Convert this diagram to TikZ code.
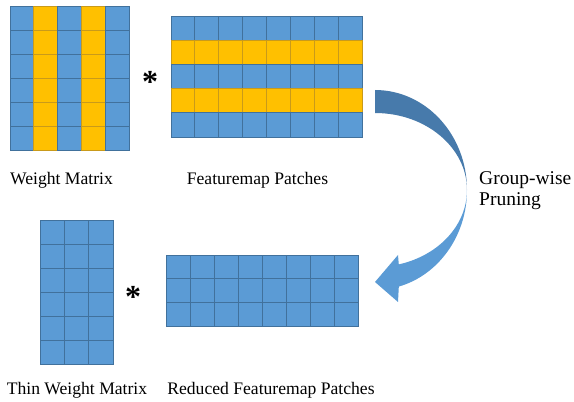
\documentclass[tikz,border=0pt]{standalone}
\usepackage{fontspec}
\setmainfont{Liberation Serif}
\definecolor{cblue}{HTML}{5B9BD5}
\definecolor{cyel}{HTML}{FFC000}
\definecolor{bblue}{HTML}{41719C}
\definecolor{byel}{HTML}{C99A1A}
\definecolor{darkarrow}{HTML}{477AAB}
\begin{document}
\begin{tikzpicture}[x=1pt,y=1pt,
  bluecell/.style={fill=cblue,draw=bblue,line width=0.8pt},
  yelcell/.style={fill=cyel,draw=byel,line width=0.8pt},
  lbl/.style={font=\fontsize{17.6}{20}\selectfont,anchor=base,inner sep=0pt},
  sidelbl/.style={font=\fontsize{19.5}{22}\selectfont,anchor=base west,inner sep=0pt},
  star/.style={font=\bfseries\fontsize{32}{32}\selectfont,inner sep=0pt}]
\useasboundingbox (0,0) rectangle (574,402);
% Weight matrix
\foreach \c in {0,...,4}{\foreach \r in {0,...,5}{
  \pgfmathtruncatemacro\isy{(\c==1)||(\c==3)}
  \ifnum\isy=1
    \draw[yelcell] (10+23.8*\c,396-24*\r) rectangle ++(23.8,-24);
  \else
    \draw[bluecell] (10+23.8*\c,396-24*\r) rectangle ++(23.8,-24);
  \fi
}}
% Featuremap patches
\foreach \c in {0,...,7}{\foreach \r in {0,...,4}{
  \pgfmathtruncatemacro\isy{(\r==1)||(\r==3)}
  \ifnum\isy=1
    \draw[yelcell] (171+23.875*\c,386-24.2*\r) rectangle ++(23.875,-24.2);
  \else
    \draw[bluecell] (171+23.875*\c,386-24.2*\r) rectangle ++(23.875,-24.2);
  \fi
}}
% Thin weight matrix
\foreach \c in {0,...,2}{\foreach \r in {0,...,5}{
  \draw[bluecell] (40+24.33*\c,182-24*\r) rectangle ++(24.33,-24);
}}
% Reduced featuremap patches
\foreach \c in {0,...,7}{\foreach \r in {0,...,2}{
  \draw[bluecell] (166+24*\c,147-23.67*\r) rectangle ++(24,-23.67);
}}
% stars
\node[star] (s1) at (150,320) {*};
\node[star] (s2) at (133,105) {*};
% labels
\node[lbl] (l1) at (61.5,217) {Weight Matrix};
\node[lbl] (l2) at (257.5,217) {Featuremap Patches};
\node[lbl] (l3) at (77,7) {Thin Weight Matrix};
\node[lbl] (l4) at (271,7) {Reduced Featuremap Patches};
\node[sidelbl] (g1) at (479,217) {Group-wise};
\node[sidelbl] (g2) at (479,196) {Pruning};
% curved arrow
\fill[darkarrow] (375,312) arc[start angle=90,end angle=0,x radius=92,y radius=100]
  arc[start angle=0,end angle=90,x radius=92,y radius=77] -- cycle;
\fill[cblue] (467,212) arc[start angle=0,end angle=-75,x radius=92,y radius=100]
  -- (398,100) -- (375,120) -- (398,147) -- (398.8,137.6)
  arc[start angle=-75,end angle=0,x radius=92,y radius=77] -- cycle;
\end{tikzpicture}
\end{document}
